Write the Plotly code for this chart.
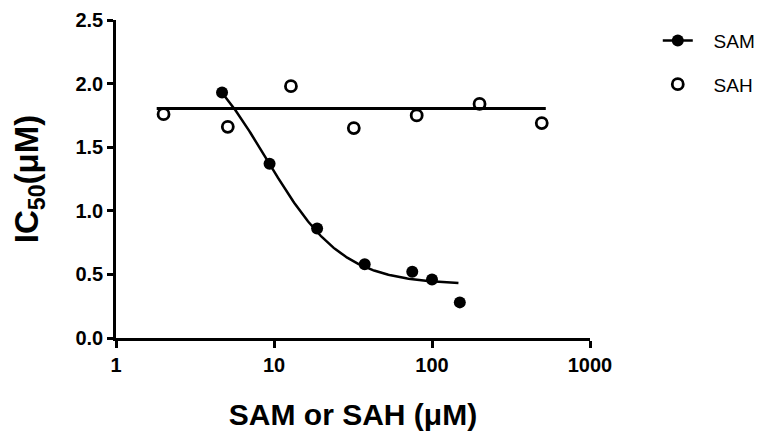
import numpy as np
import plotly.graph_objects as go

# SAM data (filled circles)
sam_x = [4.69, 9.375, 18.75, 37.5, 75, 100, 150]
sam_y = [1.93, 1.37, 0.86, 0.58, 0.52, 0.46, 0.28]
# SAH data (open circles)
sah_x = [2, 5.1, 12.8, 32, 80, 200, 495]
sah_y = [1.76, 1.66, 1.98, 1.65, 1.75, 1.84, 1.69]

# Fit parameters (4-parameter logistic for SAM, constant for SAH)
sam_top, sam_bottom, sam_ic50, sam_hill = 2.4, 0.42, 8.94, 1.8
sah_mean = 1.805

x_ticks = [1, 10, 100, 1000]
y_ticks = [0.0, 0.5, 1.0, 1.5, 2.0, 2.5]

fx = np.logspace(np.log10(min(sam_x)), np.log10(147), 200)
fy = sam_bottom + (sam_top - sam_bottom) / (1 + (fx / sam_ic50) ** sam_hill)
hx = np.array([1.81, 525])
hy = np.full_like(hx, sah_mean, dtype=float)

PAD = "\u00a0\u00a0\u00a0"
FONT = "Arial, Liberation Sans, sans-serif"
fig = go.Figure()
fig.add_trace(go.Scatter(x=hx, y=hy, mode="lines", line=dict(color="black", width=3),
                         showlegend=False, hoverinfo="skip"))
fig.add_trace(go.Scatter(x=fx, y=fy, mode="lines", line=dict(color="black", width=2.5),
                         showlegend=False, hoverinfo="skip"))
fig.add_trace(go.Scatter(x=sah_x, y=sah_y, mode="markers", name="SAH",
                         marker=dict(symbol="circle-open", size=11, color="black",
                                     line=dict(width=2.8, color="black")),
                         showlegend=False))
fig.add_trace(go.Scatter(x=sam_x, y=sam_y, mode="markers", name="SAM",
                         marker=dict(symbol="circle", size=12, color="black"),
                         showlegend=False))
# legend entries
fig.add_trace(go.Scatter(x=[None], y=[None], mode="lines+markers", name=PAD + "SAM",
                         line=dict(color="black", width=2.5),
                         marker=dict(symbol="circle", size=12, color="black"),
                         legendgroup="a"))
fig.add_trace(go.Scatter(x=[None], y=[None], mode="markers", name=PAD + "SAH",
                         marker=dict(symbol="circle-open", size=11, color="black",
                                     line=dict(width=2.8, color="black")),
                         legendgroup="b"))

fig.update_layout(
    width=764, height=428,
    margin=dict(l=108, r=182, t=12, b=98, autoexpand=False),
    paper_bgcolor="white", plot_bgcolor="white",
    font=dict(family=FONT, color="black"),
    legend=dict(x=1.143, y=0.995, xanchor="left", yanchor="top",
                font=dict(size=19, family=FONT, color="black"),
                tracegroupgap=16, traceorder="grouped",
                bgcolor="rgba(0,0,0,0)"),
    xaxis=dict(type="log", range=[0, 3], tickvals=x_ticks,
               ticktext=[str(v) for v in x_ticks], automargin=False,
               showline=True, linecolor="black", linewidth=2.5,
               ticks="outside", ticklen=7, tickwidth=2.5, tickcolor="black",
               showgrid=False, zeroline=False,
               tickfont=dict(size=20, family=FONT, color="black", weight="bold"),
               title=dict(text="SAM or SAH (μM)", standoff=30,
                          font=dict(size=30, family=FONT, color="black", weight="bold"))),
    yaxis=dict(range=[0, 2.5], tickvals=y_ticks,
               ticktext=[f"{v:.1f}" for v in y_ticks], automargin=False,
               showline=True, linecolor="black", linewidth=2.5,
               ticks="outside", ticklen=6, tickwidth=2.5, tickcolor="black",
               showgrid=False, zeroline=False,
               tickfont=dict(size=20, family=FONT, color="black", weight="bold"),
               title=dict(text="IC<sub>50</sub>(μM)", standoff=31,
                          font=dict(size=33, family=FONT, color="black", weight="bold"))),
)
fig.write_html("out.html")
